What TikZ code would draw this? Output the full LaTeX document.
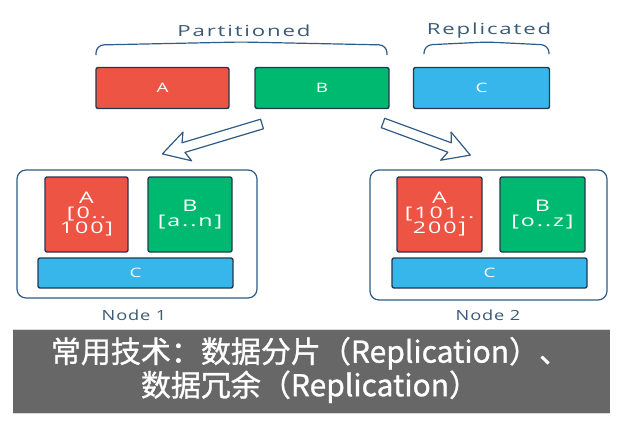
\documentclass[tikz,border=0pt]{standalone}
\usepackage{fontspec}
\setmainfont{Open Sans}
\newfontfamily\cjk[FakeBold=1]{Noto Sans CJK SC}
\newfontfamily\sketchfont[FakeStretch=1.45,LetterSpace=12]{Open Sans}
\newfontfamily\tagfont[FakeStretch=1.3,LetterSpace=6]{Open Sans}

\definecolor{shardred}{HTML}{EE5444}
\definecolor{shardgreen}{HTML}{00B970}
\definecolor{shardblue}{HTML}{36B6EA}
\definecolor{inkdark}{HTML}{24384C}
\definecolor{inkblue}{HTML}{2F5C86}
\definecolor{labelblue}{HTML}{3A5A78}
\definecolor{bannergray}{HTML}{676767}

\tikzset{
    outline/.style={draw=inkdark, line width=1.4pt, line join=round},
    shard/.style={outline, rounded corners=2pt, inner sep=0pt, text=white,
        align=center, font=\sketchfont\fontsize{16}{15}\selectfont},
    smallshard/.style={shard, font=\sketchfont\fontsize{13}{15}\selectfont},
    nodebox/.style={draw=inkblue, line width=1.2pt, rounded corners=9pt, inner sep=0pt},
    arrowline/.style={draw=inkblue, line width=1.2pt, line join=round},
    tag/.style={text=labelblue, font=\sketchfont\fontsize{15.3}{18}\selectfont},
    nodetag/.style={text=labelblue, font=\tagfont\fontsize{14}{16}\selectfont}
}

% hollow block arrow: #1 tail, #2 angle, #3 length
\newcommand{\hollowarrow}[3]{%
    \draw[arrowline, shift={#1}, rotate=#2]
        (0,5) -- ({#3-22},5) -- ({#3-26},15) -- (#3,0)
        -- ({#3-26},-15) -- ({#3-22},-5) -- (0,-5) -- cycle;
}

\begin{document}
\begin{tikzpicture}[x=1pt,y=-1pt]
    \useasboundingbox (0,0) rectangle (632,424);

    % braces and headings
    \node[tag] (part) at (244,31) {Partitioned};
    \node[tag] (repl) at (489,31) {Replicated};
    \draw[arrowline, rounded corners=8pt] (96,55) -- (96,45) -- (241,42) -- (387,45) -- (387,55);
    \draw[arrowline, rounded corners=8pt] (424,54) -- (424,45) -- (487,42) -- (549,45) -- (549,54);

    % data sets
    \node[smallshard, fill=shardred,   minimum width=133pt, minimum height=41pt] (A) at (162.5,88) {A};
    \node[smallshard, fill=shardgreen, minimum width=134pt, minimum height=41pt] (B) at (322,88) {B};
    \node[smallshard, fill=shardblue,  minimum width=136pt, minimum height=41pt] (C) at (481.5,88) {C};

    % arrows to the nodes
    \hollowarrow{(262,124)}{196.7}{104}
    \hollowarrow{(383,123)}{-20.2}{93}

    % node 1
    \node[nodebox, minimum width=240pt, minimum height=128pt] (node1) at (137,234) {};
    \node[shard, fill=shardred,   minimum width=83pt,  minimum height=75pt] (A1) at (86.5,214.5) {A\\{[}0..\\100{]}};
    \node[shard, fill=shardgreen, minimum width=84pt,  minimum height=75pt] (B1) at (190,214.5) {B\\{[}a..n{]}};
    \node[smallshard, fill=shardblue, minimum width=195pt, minimum height=30pt] (C1) at (135.5,273) {C};
    \node[nodetag] (lab1) at (134,315) {Node 1};

    % node 2
    \node[nodebox, minimum width=237pt, minimum height=130pt] (node2) at (488.5,235) {};
    \node[shard, fill=shardred,   minimum width=85pt,  minimum height=75pt] (A2) at (439.5,214.5) {A\\{[}101..\\200{]}};
    \node[shard, fill=shardgreen, minimum width=85pt,  minimum height=75pt] (B2) at (542.5,214.5) {B\\{[}o..z{]}};
    \node[smallshard, fill=shardblue, minimum width=195pt, minimum height=30pt] (C2) at (489.5,273) {C};
    \node[nodetag] (lab2) at (488,315) {Node 2};

    % caption banner
    \fill[bannergray] (13,330) rectangle (610,413);
    \draw[black!15, line width=0.8pt] (13,329.5) -- (610,329.5);
    \draw[black!15, line width=0.8pt] (13,413.5) -- (610,413.5);
    \node[text=white, align=center, font=\cjk\fontsize{30}{32}\selectfont] (caption) at (310,370)
        {常用技术：数据分片（Replication）、\\数据冗余（Replication）};
\end{tikzpicture}
\end{document}
